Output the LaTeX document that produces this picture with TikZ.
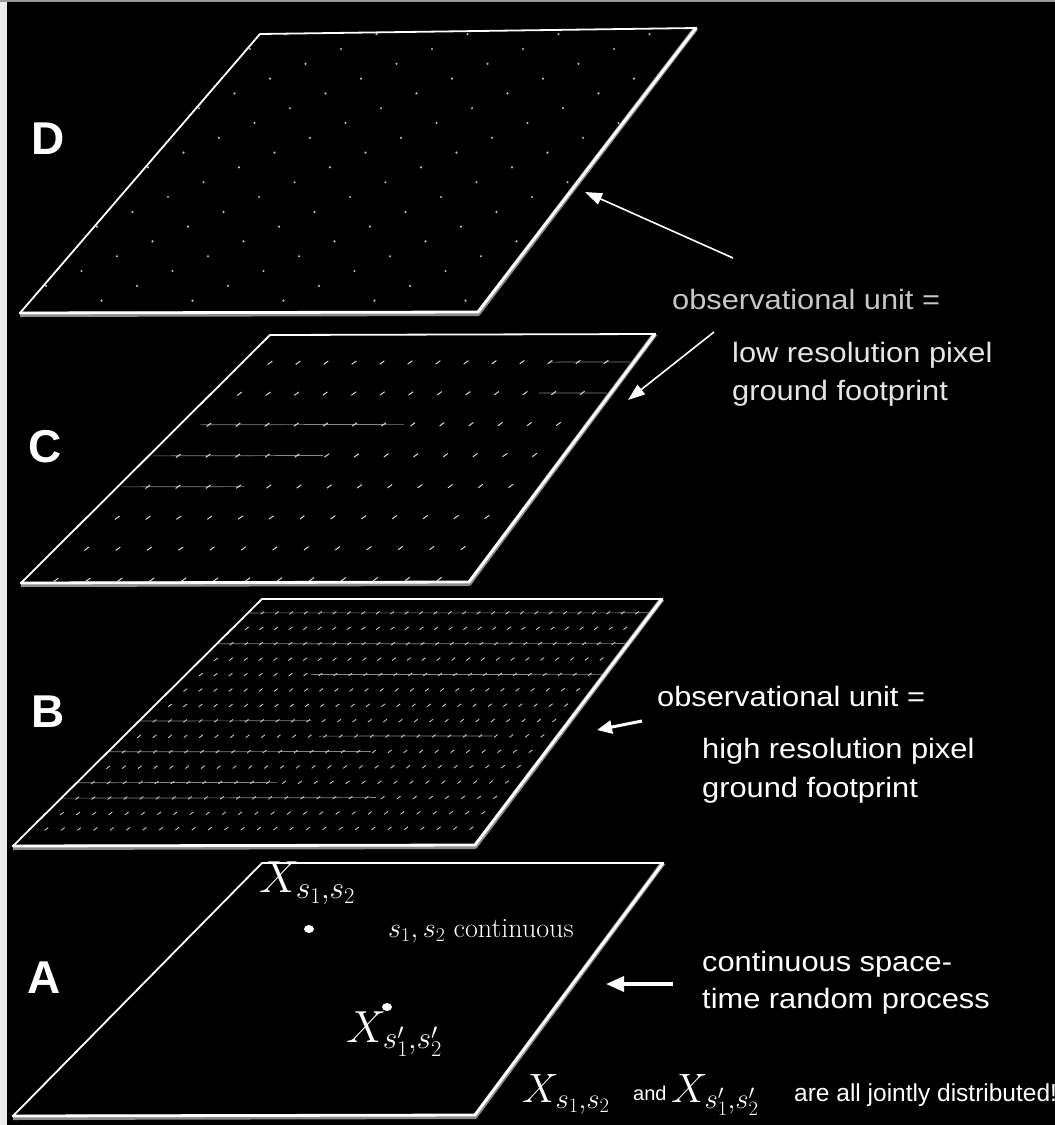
\RequirePackage{fix-cm}
\documentclass[tikz,border=0pt]{standalone}
\usepackage{fontspec}
\usetikzlibrary{calc,arrows.meta}
\newfontfamily\lblfont[FakeStretch=1.1]{Liberation Sans}
\newfontfamily\tagfont{Liberation Sans}

\tikzset{
  slabedge/.style={draw=white, line width=1.8pt, line join=round},
  slabrim/.style={draw=white, line width=2.8pt, line join=round, line cap=round},
  slabshade/.style={draw=white!55!black, line width=5pt, line join=round},
  pxtick/.style={draw=white!85!black, line width=1pt},
  finetick/.style={draw=white!80!black, line width=0.85pt},
  scanline/.style={draw=white!52!black, line width=0.7pt},
  dotmark/.style={fill=white!75!black},
  spot/.style={fill=white},
  panellabel/.style={text=white, font=\tagfont\bfseries\fontsize{46}{50}\selectfont, anchor=base west, inner sep=0pt},
  note/.style={text=white, font=\lblfont\fontsize{28}{33}\selectfont, anchor=base west, inner sep=0pt},
  faintnote/.style={note, text=white!78!black},
  smallnote/.style={text=white, font=\tagfont\fontsize{20}{24}\selectfont, anchor=base west, inner sep=0pt},
  endnote/.style={text=white, font=\tagfont\fontsize{24.5}{28}\selectfont, anchor=base west, inner sep=0pt},
  mathbig/.style={text=white, font=\fontsize{45}{52}\selectfont, anchor=base west, inner sep=0pt},
  mathmid/.style={text=white, font=\fontsize{41}{48}\selectfont, anchor=base west, inner sep=0pt},
  serifnote/.style={text=white, font=\fontsize{28}{32}\selectfont, anchor=base west, inner sep=0pt},
  thinarrow/.style={draw=white, line width=1.6pt, -{Triangle[length=17pt,width=12pt]}},
  boldarrow/.style={draw=white, line width=3pt, -{Triangle[length=15pt,width=13pt]}},
  heavyarrow/.style={draw=white, line width=3.5pt, -{Triangle[length=18pt,width=15pt]}},
}

% one slab: corners #2..#5 = top-left, top-right, bottom-right, bottom-left
\newcommand\slabcorners[5]{%
  \coordinate (#1-tl) at (#2);
  \coordinate (#1-tr) at (#3);
  \coordinate (#1-br) at (#4);
  \coordinate (#1-bl) at (#5);
}
\newcommand\slabframe[1]{%
  \draw[slabshade] ([yshift=-1.5pt]#1-bl) -- ([yshift=-1.5pt]#1-br) -- (#1-tr);
  \draw[slabedge] (#1-tl) -- (#1-tr) -- (#1-br) -- (#1-bl) -- cycle;
  \draw[slabrim] (#1-bl) -- (#1-br) -- (#1-tr);
}

\begin{document}
\begin{tikzpicture}[x=1pt, y=-1pt]
  % canvas
  \fill[black] (0,0) rectangle (1055,1125);
  \useasboundingbox (0,0) rectangle (1055,1125);
  \fill[white!92!black] (0,0) rectangle (6.5,1125);
  \fill[white!60!black] (0,0) rectangle (1055,2);

  \slabcorners{D}{260,34}{696,28}{478,312}{20,313}
  \slabcorners{C}{270,335}{655,334}{469,582}{21,583}
  \slabcorners{B}{262,599}{662,599}{475,845}{13,846}
  \slabcorners{A}{262,863}{663,863}{475,1115}{13,1116}

  % ---- D: sparse sample points ----
  \begin{scope}
    \clip (D-tl) -- (D-tr) -- (D-br) -- (D-bl) -- cycle;
    \foreach \j in {-1,...,18}{
      \foreach \i in {-4,...,11}{
        \pgfmathsetmacro\px{341+\i*91-\j*35.5}
        \pgfmathsetmacro\py{49+\j*14.8}
        \fill[dotmark] (\px,\py) circle[radius=1.2pt];
      }
    }
  \end{scope}

  % ---- C: low resolution pixel grid ----
  \foreach \r/\ua/\ub in {1/0.78/0.99, 2/0.82/0.99, 3/0.05/0.55, 4/0.01/0.42, 5/0.01/0.30}{
    \pgfmathsetmacro\vv{(\r-0.1)/8}
    \draw[scanline] ($($(C-tl)!\vv!(C-bl)$)!\ua!($(C-tr)!\vv!(C-br)$)$)
                 -- ($($(C-tl)!\vv!(C-bl)$)!\ub!($(C-tr)!\vv!(C-br)$)$);
  }
  \foreach \r in {1,...,8}{
    \pgfmathsetmacro\vv{(\r-0.1)/8}
    \coordinate (cL) at ($(C-tl)!\vv!(C-bl)$);
    \coordinate (cR) at ($(C-tr)!\vv!(C-br)$);
    \foreach \k in {1,...,13}{
      \draw[pxtick] ($(cL)!\k/14!(cR)$) +(-2.3,1.7) -- +(2.3,-1.7);
    }
  }

  % ---- B: high resolution pixel grid ----
  \foreach \r/\ua/\ub in {1/0.0/1.0, 3/0.0/1.0, 5/0.3/1.0, 8/0.0/0.4, 9/0.45/0.85, 10/0.0/0.6, 12/0.0/0.45, 13/0.0/0.7}{
    \pgfmathsetmacro\vv{(\r-0.1)/16}
    \draw[scanline] ($($(B-tl)!\vv!(B-bl)$)!\ua!($(B-tr)!\vv!(B-br)$)$)
                 -- ($($(B-tl)!\vv!(B-bl)$)!\ub!($(B-tr)!\vv!(B-br)$)$);
  }
  \foreach \r in {1,...,15}{
    \pgfmathsetmacro\vv{(\r-0.1)/16}
    \coordinate (bL) at ($(B-tl)!\vv!(B-bl)$);
    \coordinate (bR) at ($(B-tr)!\vv!(B-br)$);
    \foreach \k in {1,...,27}{
      \draw[finetick] ($(bL)!\k/28!(bR)$) +(-1.8,1.4) -- +(1.8,-1.4);
    }
  }

  % ---- slab outlines ----
  \slabframe{D}
  \slabframe{C}
  \slabframe{B}
  \slabframe{A}

  % ---- panel letters ----
  \node[panellabel] (labD) at (31,154) {D};
  \node[panellabel] (labC) at (28,462) {C};
  \node[panellabel] (labB) at (31,727) {B};
  \node[panellabel] (labA) at (27,993) {A};

  % ---- A: continuous process ----
  \fill[spot] (309,929) ellipse[x radius=5pt, y radius=4pt];
  \fill[spot] (387,1007) ellipse[x radius=5pt, y radius=4pt];
  \node[mathbig] (xs) at (259,892) {$X_{s_1,s_2}$};
  \node[mathbig] (xsp) at (346,1042) {$X_{s'_1,s'_2}$};
  \node[serifnote] (cont) at (388,937) {$s_1,s_2$ continuous};

  % ---- right-hand notes ----
  \node[faintnote] (obsC) at (672,309) {observational unit =};
  \node[note, text=white!90!black] (lowres) at (732,362) {low resolution pixel};
  \node[note, text=white!90!black] (lowgf) at (732,400) {ground footprint};

  \node[note] (obsB) at (657,706) {observational unit =};
  \node[note] (highres) at (702,758) {high resolution pixel};
  \node[note] (highgf) at (702,797) {ground footprint};

  \node[note] (procA) at (702,971) {continuous space-};
  \node[note] (procB) at (702,1008) {time random process};

  % ---- joint distribution line ----
  \node[mathmid] (jx1) at (522,1102) {$X_{s_1,s_2}$};
  \node[smallnote] (jand) at (633,1100) {and};
  \node[mathmid] (jx2) at (671,1102) {$X_{s'_1,s'_2}$};
  \node[endnote] (jrest) at (794,1101) {are all jointly distributed!};

  % ---- pointers ----
  \coordinate (pD0) at (733,258);
  \coordinate (pD1) at (585,192);
  \coordinate (pC0) at (714,332);
  \coordinate (pC1) at (628,400);
  \coordinate (pB0) at (642,721);
  \coordinate (pB1) at (597,730);
  \coordinate (pA0) at (673,984);
  \coordinate (pA1) at (606,984);
  \draw[thinarrow] (pD0) -- (pD1);
  \draw[thinarrow] (pC0) -- (pC1);
  \draw[boldarrow] (pB0) -- (pB1);
  \draw[heavyarrow] (pA0) -- (pA1);
\end{tikzpicture}
\end{document}
